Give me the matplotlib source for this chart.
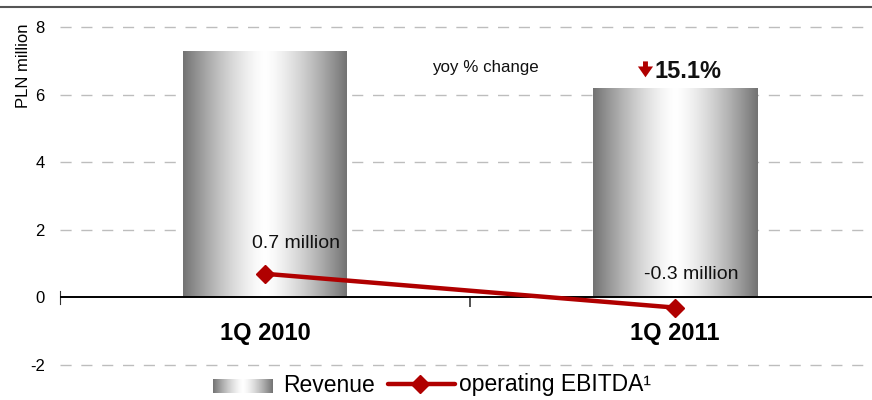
import numpy as np
import matplotlib
matplotlib.use("Agg")
import matplotlib.pyplot as plt
import matplotlib.patches as mpatches
from matplotlib.lines import Line2D

plt.rcParams['font.family'] = ['Liberation Sans', 'DejaVu Sans']

# Data
quarters = ["1Q 2010", "1Q 2011"]
revenue = [7.3, 6.2]            # PLN million
ebitda = [0.7, -0.3]            # PLN million
ebitda_labels = ["0.7 million", "-0.3 million"]
yoy_change = "15.1%"
y_ticks = [-2, 0, 2, 4, 6, 8]

RED = "#b00000"
W, H = 872, 400

fig = plt.figure(figsize=(W / 100, H / 100), dpi=100)
ax = fig.add_axes([60 / W, 1 - 382 / H, 820 / W, (382 - 10) / H])

# Axis frame: only a zero baseline and a short stub at the origin
for s in ["top", "right"]:
    ax.spines[s].set_visible(False)
ax.spines["bottom"].set_position(("data", 0))
ax.spines["bottom"].set_visible(False)
ax.spines["left"].set_bounds(-0.18, 0.18)
ax.spines["left"].set_color("#333333")


def gradient_row(n=256):
    t = np.linspace(0, 1, n)
    v = 1 - 0.55 * np.abs(2 * t - 1) ** 1.4
    return np.dstack([v, v, v]).reshape(1, n, 3)


grad = gradient_row()

# Revenue bars with a horizontal metallic gradient
bar_w = 0.4
bars = ax.bar(range(len(quarters)), revenue, width=bar_w, color="none",
              edgecolor="none", zorder=2)
for b in bars:
    x0, y0 = b.get_x(), b.get_y()
    img = ax.imshow(grad, extent=[x0, x0 + b.get_width(), y0, y0 + b.get_height()],
                    aspect="auto", zorder=2, interpolation="bilinear")
    img.set_clip_path(b)
ax.set_xlim(-0.5, 1.5)
ax.set_ylim(-2.5, 8.5)

# Grid
for y in y_ticks:
    if y != 0:
        ax.axhline(y, color="#bdbdbd", lw=1.0, ls=(0, (8, 7)), zorder=1)
ax.axhline(0, color="black", lw=1.4, zorder=3)

# Operating EBITDA line
ax.plot(range(len(quarters)), ebitda, color=RED, lw=3.2, marker="D",
        markersize=9, zorder=5, solid_capstyle="butt")

offsets = [(22, 22), (12, 24)]
for i, (v, lab) in enumerate(zip(ebitda, ebitda_labels)):
    ax.annotate(lab, (i, v), xytext=offsets[i], textcoords="offset points",
                ha="center", va="center", fontsize=14, color="#111111", zorder=6)

# Year-over-year change annotation
ax.text(0.537, 6.8, "yoy % change", ha="center", va="center", fontsize=12.2,
        color="#111111")
ax.text(1.032, 6.69, yoy_change, ha="center", va="center", fontsize=17,
        fontweight="bold", color="#111111")
ax.add_patch(mpatches.FancyArrow(0.928, 6.98, 0, -0.47, width=0.012,
                                 head_width=0.037, head_length=0.32,
                                 length_includes_head=True, color=RED,
                                 lw=0, zorder=6))

# Ticks
ax.set_yticks(y_ticks)
ax.set_yticklabels([str(t) for t in y_ticks], fontsize=12)
ax.tick_params(axis="y", length=0, pad=11)

ax.set_xticks(range(len(quarters)))
ax.set_xticklabels(quarters, fontsize=17, fontweight="bold")
ax.set_xticks([0.5], minor=True)
ax.tick_params(axis="x", which="major", length=0, pad=18)
ax.tick_params(axis="x", which="minor", length=7, width=1.2, color="#333333",
               direction="out")

fig.text(23 / W, 1 - 24 / H, "PLN million", rotation=90, ha="center",
         va="top", fontsize=12)

# Top rule
fig.add_artist(Line2D([0, 1], [1 - 7 / H, 1 - 7 / H], color="#555555", lw=1.5))

# Legend
lax = fig.add_axes([213 / W, 1 - 393 / H, 60 / W, 14 / H])
lax.imshow(grad, aspect="auto", extent=[0, 1, 0, 1], interpolation="bilinear")
lax.axis("off")
fig.text(283 / W, 1 - 385 / H, "Revenue", ha="left", va="center", fontsize=16.5)
fig.add_artist(Line2D([388 / W, 455 / W], [1 - 384 / H, 1 - 384 / H],
                      color=RED, lw=3.2, solid_capstyle="round"))
fig.add_artist(Line2D([420 / W], [1 - 384 / H], color=RED, marker="D",
                      markersize=9, lw=0))
fig.text(459 / W, 1 - 385 / H, "operating EBITDA\u00b9", ha="left",
         va="center", fontsize=16.5)

fig.savefig("out.png", dpi=100)
